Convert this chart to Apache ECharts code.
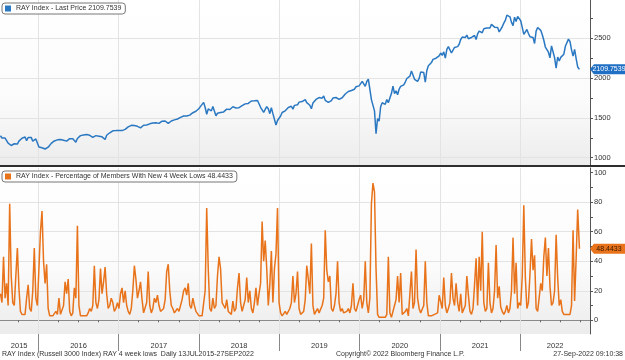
<!DOCTYPE html>
<html><head><meta charset="utf-8">
<script src="https://cdn.jsdelivr.net/npm/echarts@6/dist/echarts.min.js"></script>
<style>html,body{margin:0;padding:0;background:#fff}#c{width:625px;height:360px}</style>
</head><body><div id="c"></div>
<script>
// ---- DATA (weekly readings, first week starting 13 Jul 2015) ----
const price2015 = [1276,1247,1262,1247,1255,1183,1193,1153,1177,1175,1159,1171,1208,1220,1245,1247,1259,1214,1253,1254,1255,1207,1203,1236,1226];
const price2016 = [1134,1109,1125,1145,1109,1085,1132,1150,1180,1194,1210,1201,1224,1208,1229,1235,1219,1214,1208,1211,1239,1240,1238,1223,1195,1241,1258,1277,1285,1284,1290,1290,1290,1281,1288,1256,1262,1277,1280,1270,1257,1262,1252,1228,1282,1295,1313,1300,1338,1338,1340,1322];
const price2017 = [1343,1342,1340,1354,1355,1366,1387,1397,1406,1400,1403,1383,1394,1389,1374,1386,1407,1415,1411,1405,1425,1439,1435,1435,1438,1430,1431,1451,1459,1458,1461,1440,1431,1441,1461,1452,1475,1476,1486,1504,1506,1519,1523,1527,1523,1522,1535,1559,1565,1578,1583,1578];
const price2018 = [1618,1644,1658,1695,1630,1546,1612,1621,1588,1644,1624,1527,1558,1536,1567,1575,1575,1571,1610,1601,1605,1614,1640,1640,1625,1604,1628,1653,1653,1663,1676,1671,1682,1696,1712,1694,1714,1729,1719,1702,1633,1633,1568,1607,1641,1614,1553,1628,1553,1534,1410,1467];
const price2019 = [1486,1524,1568,1564,1589,1590,1630,1640,1646,1610,1657,1644,1664,1698,1706,1705,1726,1729,1691,1679,1659,1615,1686,1695,1732,1727,1755,1769,1748,1776,1721,1713,1696,1671,1718,1749,1765,1756,1739,1733,1743,1753,1775,1800,1816,1831,1826,1844,1847,1860,1891,1902];
const price2020 = [1902,1920,1958,1937,1897,1957,1987,1962,1730,1740,1588,1300,1490,1460,1640,1690,1670,1670,1730,1690,1750,1805,1900,1805,1840,1790,1860,1895,1920,1915,1950,1995,2010,2025,2090,2040,1985,1970,1960,1995,2075,2080,2070,1950,2095,2155,2145,2195,2235,2215,2250,2250,2280];
const price2021 = [2315,2285,2330,2250,2360,2395,2375,2315,2320,2385,2365,2395,2425,2485,2515,2510,2510,2540,2495,2485,2510,2525,2535,2485,2555,2590,2600,2570,2620,2610,2630,2650,2630,2675,2690,2640,2625,2635,2580,2600,2645,2690,2725,2790,2775,2770,2700,2660,2765,2710,2775,2800];
const price2022 = [2720,2705,2550,2570,2610,2560,2520,2540,2510,2435,2590,2635,2635,2600,2545,2475,2390,2385,2325,2255,2405,2380,2255,2125,2265,2215,2260,2240,2300,2400,2410,2490,2460,2355,2275,2360,2245,2140,2109.7539];

const lows2015 = [18,12,43,15,25,10,79,30,12,10,30,49,22,6,4,3,4,15,24,8,6,20,49,15,10];
const lows2016 = [35,60,74,40,25,38,8,3,2,3,4,6,4,15,4,5,10,26,18,28,6,3,5,22,15,64,10,3,2,3,4,3,5,8,6,10,37,12,8,14,35,18,26,36,18,8,10,15,12,6,8,12];
const lows2017 = [8,18,22,12,20,10,6,4,8,20,37,28,15,20,26,14,5,6,12,33,10,5,8,15,12,17,10,6,5,8,14,33,38,20,10,8,5,4,8,6,10,14,20,22,17,25,10,8,15,10,6,5];
const lows2018 = [3,2,3,4,20,76,35,8,6,15,8,10,30,43,35,12,10,8,14,6,5,4,13,6,8,22,32,12,6,10,14,29,12,20,8,5,12,22,10,18,25,67,40,54,35,10,24,47,12,35,45,76];
const lows2019 = [12,5,3,4,6,4,3,8,12,30,12,18,33,8,4,5,6,14,37,28,18,52,10,4,6,8,5,4,10,15,61,34,26,30,8,6,10,18,40,12,6,8,5,4,6,8,5,10,25,8,6,10];
const lows2020 = [14,17,8,14,40,12,5,15,79,93,87,35,4,2,1,2,3,2,4,43,5,2,3,10,14,30,12,32,4,3,6,8,3,2,33,8,12,48,15,8,5,4,10,40,12,3,2,3,2,4,3,5,17];
const lows2021 = [16,8,29,10,5,8,12,32,15,10,25,12,6,18,5,4,10,30,17,6,4,8,24,42,10,43,20,60,12,6,8,39,12,5,8,20,51,15,23,9,6,4,6,10,5,8,20,56,18,39,8,12];
const lows2022 = [10,30,78,29,8,12,31,55,34,44,8,6,5,25,20,43,56,30,49,23,10,12,20,58,29,10,14,6,4,3,4,3,4,10,61,13,42,75,48.4433];

const priceLabelTicks = [1000,1500,2000,2500];
const priceAllTicks = [1000,1250,1500,1750,2000,2250,2500,2750];
const lowsLabelTicks = [0,20,40,60,80,100];
const lowsAllTicks = [0,10,20,30,40,50,60,70,80,90,100];
const years = [2015,2016,2017,2018,2019,2020,2021,2022];

const priceName = 'RAY Index - Last Price 2109.7539';
const lowsName = 'RAY Index - Percentage of Members With New 4 Week Lows 48.4433';
const lastPrice = 2109.7539, lastLows = 48.4433;

// ---- BUILD ----
const price = [].concat(price2015,price2016,price2017,price2018,price2019,price2020,price2021,price2022);
const lows = [].concat(lows2015,lows2016,lows2017,lows2018,lows2019,lows2020,lows2021,lows2022);
const dates = price.map((_, i) => new Date(2015, 6, 13 + 7 * i).getTime());
dates[dates.length - 1] = new Date(2022, 8, 27).getTime();
const xMin = new Date(2015, 6, 11).getTime();
const xMax = new Date(2022, 10, 14).getTime();
const jan1 = years.slice(1).map(y => new Date(y, 0, 1).getTime());
const quarterTicks = [];
years.forEach(y => [3, 6, 9].forEach(m => { const t = new Date(y, m, 1).getTime(); if (t > xMin && t < xMax) quarterTicks.push(t); }));
const yearCenters = years.map(y => {
  const a = Math.max(new Date(y, 0, 1).getTime(), xMin), b = Math.min(new Date(y + 1, 0, 1).getTime(), xMax);
  return (a + b) / 2;
});

const FONT = 'Liberation Sans';
const bg = {type:'linear', x:0, y:0, x2:0, y2:1, colorStops:[{offset:0,color:'#ffffff'},{offset:0.6,color:'#fbfbfb'},{offset:1,color:'#ececec'}]};
const gridLineStyle = {color:'#e3e3e3', width:1, type:'solid'};
const markGrid = (hs) => ({
  silent:true, z:1, symbol:['none','none'], label:{show:false}, lineStyle:gridLineStyle, animation:false,
  data: hs.map(v => ({yAxis:v})).concat(jan1.map(t => ({xAxis:t})))
});
const tagPath = 'path://M0,5 L4,0 L36,0 L36,10 L4,10 Z';
const plain = v => String(v);
const legendBase = {padding:[2,4,2,3], itemWidth:6, itemHeight:6, itemGap:3, icon:'rect', z:20,
  backgroundColor:'#fff', borderColor:'#777', borderWidth:1, borderRadius:3,
  textStyle:{fontSize:7, color:'#333', fontFamily:FONT}, selectedMode:false};

const chart = echarts.init(document.getElementById('c'), null, {renderer:'canvas'});
chart.setOption({
  animation:false,
  textStyle:{fontFamily:FONT},
  grid:[
    {left:0, top:0, width:590, height:165, show:true, borderWidth:0, backgroundColor:bg},
    {left:0, top:168, width:590, height:166, show:true, borderWidth:0, backgroundColor:bg}
  ],
  legend:[
    Object.assign({data:[priceName], left:2, top:3}, legendBase),
    Object.assign({data:[lowsName], left:2, top:171}, legendBase)
  ],
  xAxis:[
    {type:'value', gridIndex:0, position:'bottom', min:xMin, max:xMax, show:false, splitLine:{show:false}},
    {type:'value', gridIndex:1, position:'bottom', min:xMin, max:xMax,
     axisLine:{show:true, lineStyle:{color:'#8a8a8a'}},
     axisTick:{show:true, customValues:quarterTicks, length:2, lineStyle:{color:'#666'}},
     axisLabel:{show:true, customValues:yearCenters, formatter:v => String(new Date(v).getFullYear()), fontSize:7.5, color:'#333', margin:8, hideOverlap:false},
     splitLine:{show:false}},
    {type:'value', gridIndex:1, position:'bottom', offset:0, min:xMin, max:xMax,
     axisLine:{show:false},
     axisTick:{show:true, customValues:jan1, length:17, lineStyle:{color:'#888', width:1}},
     axisLabel:{show:false}, splitLine:{show:false}}
  ],
  yAxis:[
    {type:'value', gridIndex:0, position:'right', min:908, max:2981,
     axisLine:{show:true, lineStyle:{color:'#555'}},
     axisTick:{show:true, customValues:priceAllTicks, length:3, lineStyle:{color:'#555'}},
     axisLabel:{show:true, customValues:priceLabelTicks, formatter:plain, fontSize:7.5, color:'#333', margin:4},
     splitLine:{show:false}},
    {type:'value', gridIndex:1, position:'right', min:-9.3, max:103.2,
     axisLine:{show:true, lineStyle:{color:'#555'}},
     axisTick:{show:true, customValues:lowsAllTicks, length:3, lineStyle:{color:'#555'}},
     axisLabel:{show:true, customValues:lowsLabelTicks, formatter:plain, fontSize:7.5, color:'#333', margin:4},
     splitLine:{show:false}}
  ],
  series:[
    {type:'line', name:'gridTop', xAxisIndex:0, yAxisIndex:0, data:[], markLine:markGrid(priceLabelTicks), z:1},
    {type:'line', name:'gridBottom', xAxisIndex:1, yAxisIndex:1, data:[], markLine:markGrid([20,40,60,80]), z:1},
    {type:'line', name:priceName, xAxisIndex:0, yAxisIndex:0, showSymbol:false, symbol:'none', z:3,
     color:'#2b78c2', lineStyle:{width:1.5, color:'#2b78c2'},
     data: dates.map((d,i) => [d, price[i]]),
     markPoint:{symbol:tagPath, symbolSize:[35,10], symbolOffset:[17.5,0], silent:true, animation:false, z:6,
       itemStyle:{color:'#1f6fc4'},
       label:{show:true, position:'inside', offset:[1.5,0], color:'#fff', fontSize:7, fontFamily:FONT, formatter:String(lastPrice)},
       data:[{coord:[xMax, lastPrice]}]}},
    {type:'line', name:lowsName, xAxisIndex:1, yAxisIndex:1, showSymbol:false, symbol:'none', z:3,
     color:'#e8731a', lineStyle:{width:1.5, color:'#e8731a'},
     data: dates.map((d,i) => [d, lows[i]]),
     markPoint:{symbol:tagPath, symbolSize:[35,10], symbolOffset:[17.5,0], silent:true, animation:false, z:6,
       itemStyle:{color:'#e8731a'},
       label:{show:true, position:'inside', offset:[1.5,0], color:'#3a1a00', fontSize:7, fontFamily:FONT, formatter:String(lastLows)},
       data:[{coord:[xMax, lastLows]}]}}
  ],
  graphic:[
    {type:'rect', left:0, top:165, shape:{width:625, height:2}, style:{fill:'#2e2e2e'}, silent:true, z:10},
    {type:'text', left:2, top:351, style:{text:'RAY Index (Russell 3000 Index) RAY 4 week lows  Daily 13JUL2015-27SEP2022', fill:'#333', font:'7px "Liberation Sans"'}, z:10},
    {type:'text', left:336, top:351, style:{text:'Copyright\u00A9 2022 Bloomberg Finance L.P.', fill:'#333', font:'7px "Liberation Sans"'}, z:10},
    {type:'text', right:2, top:351, style:{text:'27-Sep-2022 09:10:38', fill:'#333', font:'7px "Liberation Sans"'}, z:10}
  ]
});
</script></body></html>
